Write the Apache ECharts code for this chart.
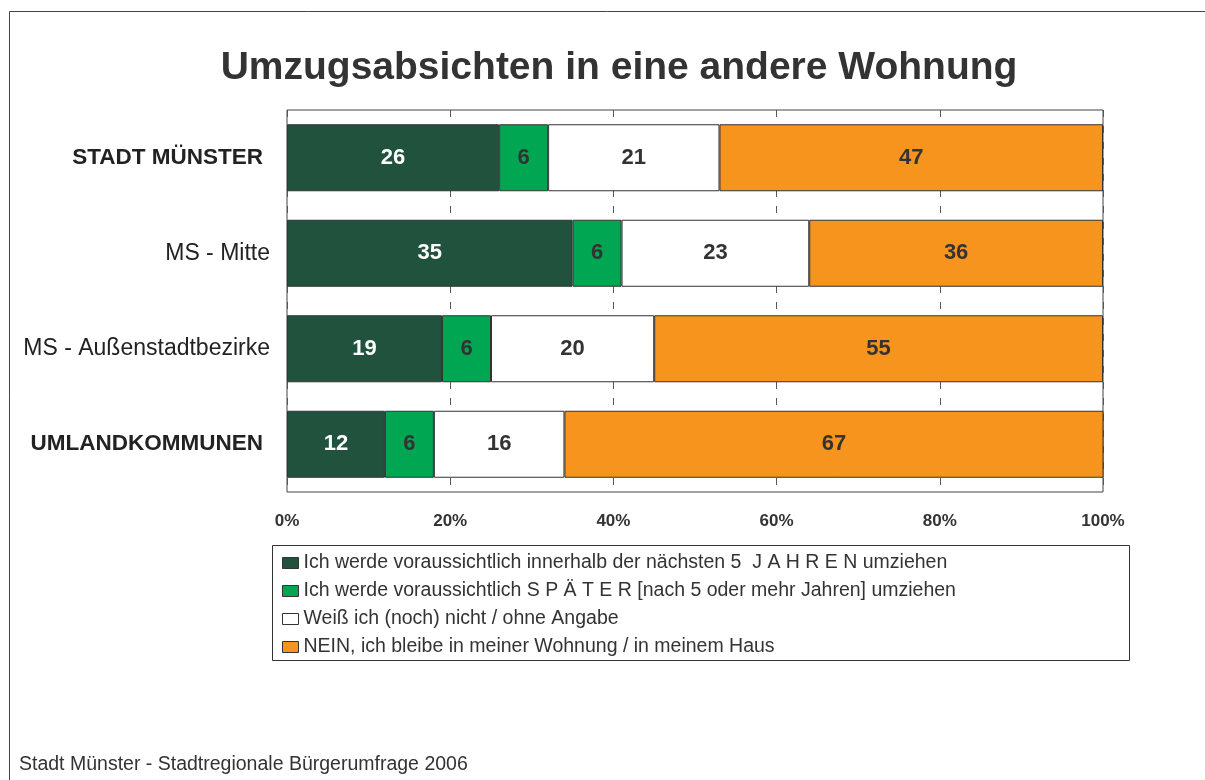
<!DOCTYPE html>
<html>
<head>
<meta charset="utf-8">
<script src="https://cdn.jsdelivr.net/npm/echarts@6/dist/echarts.min.js"></script>
<style>
  html, body { margin: 0; padding: 0; background: #fff; }
  #chart { width: 1205px; height: 780px; }
</style>
</head>
<body>
<div id="chart"></div>
<script>
var categories = ['STADT MÜNSTER', 'MS - Mitte', 'MS - Außenstadtbezirke', 'UMLANDKOMMUNEN'];
var boldRows = ['STADT MÜNSTER', 'UMLANDKOMMUNEN'];
var seriesNames = [
  'Ich werde voraussichtlich innerhalb der nächsten 5  J A H R E N umziehen',
  'Ich werde voraussichtlich S P Ä T E R [nach 5 oder mehr Jahren] umziehen',
  'Weiß ich (noch) nicht / ohne Angabe',
  'NEIN, ich bleibe in meiner Wohnung / in meinem Haus'
];
var within5 = [26, 35, 19, 12];
var later = [6, 6, 6, 6];
var dontKnow = [21, 23, 20, 16];
var stay = [47, 36, 55, 67];
var xTicks = [0, 20, 40, 60, 80, 100];

var colors = ['#21523d', '#00a651', '#ffffff', '#f7941d'];
var labelColors = ['#ffffff', '#333333', '#333333', '#333333'];
var font = 'Arial, "Liberation Sans", sans-serif';

var chart = echarts.init(document.getElementById('chart'));

var seriesData = [within5, later, dontKnow, stay];
var series = seriesData.map(function (d, i) {
  return {
    name: seriesNames[i],
    type: 'bar',
    stack: 'total',
    barWidth: 67,
    data: d,
    itemStyle: {
      color: colors[i],
      borderColor: '#333',
      borderWidth: 1
    },
    label: {
      show: true,
      position: 'inside',
      color: labelColors[i],
      fontFamily: font,
      fontWeight: 'bold',
      fontSize: 22
    }
  };
});

chart.setOption({
  animation: false,
  backgroundColor: '#fff',
  color: colors,
  title: {
    text: 'Umzugsabsichten in eine andere Wohnung',
    left: 614,
    textAlign: 'center',
    top: 44,
    textStyle: {
      fontFamily: font,
      fontWeight: 'bold',
      fontSize: 39,
      color: '#333'
    }
  },
  graphic: [
    {
      type: 'rect',
      shape: { x: 9.5, y: 11.5, width: 1400, height: 1000 },
      style: { fill: null, stroke: '#444', lineWidth: 1 },
      silent: true,
      z: -10
    },
    {
      type: 'rect',
      shape: { x: 272.5, y: 545.5, width: 857, height: 115 },
      style: { fill: null, stroke: '#333', lineWidth: 1 },
      silent: true
    },
    {
      type: 'text',
      left: 19,
      top: 755,
      style: {
        text: 'Stadt Münster - Stadtregionale Bürgerumfrage 2006',
        fill: '#333',
        fontFamily: font,
        fontSize: 19.5
      }
    }
  ],
  legend: {
    orient: 'vertical',
    left: 277,
    top: 548,
    icon: 'rect',
    itemWidth: 16,
    itemHeight: 11,
    itemGap: 8,
    data: seriesNames,
    itemStyle: { borderColor: '#333', borderWidth: 1 },
    textStyle: {
      fontFamily: font,
      fontSize: 19.5,
      color: '#333'
    },
    selectedMode: false
  },
  grid: {
    left: 287,
    right: 102,
    top: 110,
    bottom: 288,
    show: true,
    borderColor: '#444',
    borderWidth: 1,
    containLabel: false
  },
  xAxis: {
    type: 'value',
    min: xTicks[0],
    max: xTicks[xTicks.length - 1],
    interval: 20,
    axisLine: { show: false },
    axisTick: { show: false },
    axisLabel: {
      formatter: '{value}%',
      margin: 21,
      color: '#333',
      fontFamily: font,
      fontWeight: 'bold',
      fontSize: 17
    },
    splitLine: {
      show: true,
      lineStyle: { color: '#555', type: [7, 9], width: 1 }
    }
  },
  yAxis: {
    type: 'category',
    inverse: true,
    data: categories,
    axisLine: { show: false },
    axisTick: { show: false },
    axisLabel: {
      margin: 17,
      color: '#222',
      fontFamily: font,
      fontSize: 23,
      formatter: function (v) {
        return boldRows.indexOf(v) >= 0 ? '{b|' + v + '}' : v;
      },
      rich: {
        b: { fontWeight: 'bold', fontSize: 22.5, fontFamily: font, color: '#222', padding: [0, 7, 0, 0] }
      }
    }
  },
  series: series
});
</script>
</body>
</html>
